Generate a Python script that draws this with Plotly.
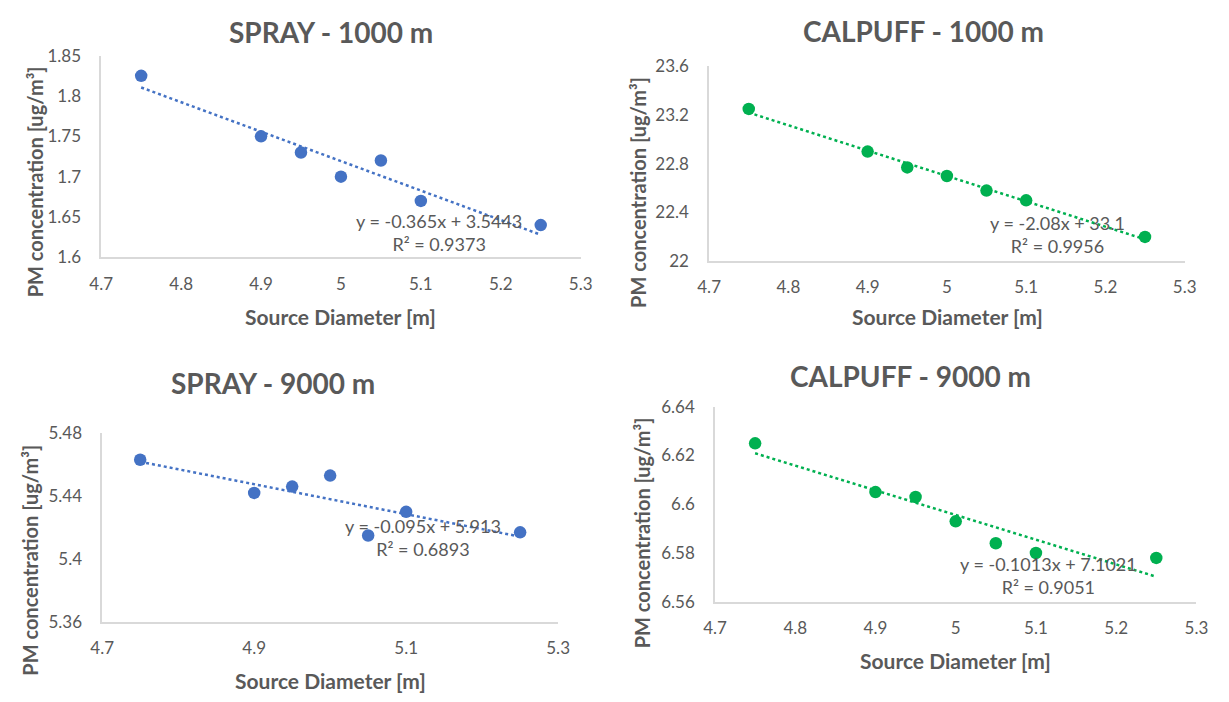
import numpy as np
import plotly.graph_objects as go

# ---- data ----
diam = [4.75, 4.9, 4.95, 5.0, 5.05, 5.1, 5.25]
spray_1000 = [1.825, 1.75, 1.73, 1.70, 1.72, 1.67, 1.64]
calpuff_1000 = [23.25, 22.90, 22.77, 22.70, 22.58, 22.50, 22.20]
spray_9000 = [5.463, 5.442, 5.446, 5.453, 5.415, 5.430, 5.417]
calpuff_9000 = [6.625, 6.605, 6.603, 6.593, 6.584, 6.580, 6.578]

titles = ["SPRAY - 1000 m", "CALPUFF - 1000 m", "SPRAY - 9000 m", "CALPUFF - 9000 m"]
slopes = [-0.365, -2.08, -0.095, -0.1013]
intercepts = [3.5443, 33.1, 5.913, 7.1021]
eq_labels = ["y = -0.365x + 3.5443", "y = -2.08x + 33.1", "y = -0.095x + 5.913", "y = -0.1013x + 7.1021"]
r2_labels = ["R² = 0.9373", "R² = 0.9956", "R² = 0.6893", "R² = 0.9051"]

x_ticks_a = [4.7, 4.8, 4.9, 5.0, 5.1, 5.2, 5.3]
x_ticklabels_a = ["4.7", "4.8", "4.9", "5", "5.1", "5.2", "5.3"]
x_ticks_b = [4.7, 4.9, 5.1, 5.3]
x_ticklabels_b = ["4.7", "4.9", "5.1", "5.3"]

y_ticks = [[1.6, 1.65, 1.7, 1.75, 1.8, 1.85],
           [22.0, 22.4, 22.8, 23.2, 23.6],
           [5.36, 5.40, 5.44, 5.48],
           [6.56, 6.58, 6.60, 6.62, 6.64]]
y_ticklabels = [["1.6", "1.65", "1.7", "1.75", "1.8", "1.85"],
                ["22", "22.4", "22.8", "23.2", "23.6"],
                ["5.36", "5.4", "5.44", "5.48"],
                ["6.56", "6.58", "6.6", "6.62", "6.64"]]

series = [spray_1000, calpuff_1000, spray_9000, calpuff_9000]
colors = ["#4472C4", "#00B050", "#4472C4", "#00B050"]

W, H = 1229, 702
# pixel layout of each plot area: left, right, top, bottom
boxes = [(91, 580, 46, 254), (711, 1196, 57, 258), (92, 557, 435, 630), (717, 1208, 408, 609)]
title_pos = [(325, 22), (930, 21), (266, 383), (916, 376)]
xtitle_pos = [(335, 315), (954, 315), (325, 690), (962, 670)]
ytitle_pos = [(23, 176), (639, 187), (18, 566), (642, 538)]
eq_pos = [(435, 228), (1066, 230), (419, 543), (1057, 582)]

TXT = "#595959"
FONT = "Lato"

fig = go.Figure()
annotations = []
for i in range(4):
    ax = "" if i == 0 else str(i + 1)
    xa, ya = "x" + ax, "y" + ax
    xd = np.array([diam[0], diam[-1]])
    fig.add_trace(go.Scatter(x=list(xd), y=list(slopes[i] * xd + intercepts[i]), mode="lines",
                             line=dict(color=colors[i], width=2.5, dash="dot"),
                             xaxis=xa, yaxis=ya, showlegend=False, hoverinfo="skip"))
    fig.add_trace(go.Scatter(x=diam, y=series[i], mode="markers",
                             marker=dict(color=colors[i], size=12.5),
                             xaxis=xa, yaxis=ya, showlegend=False))
    l, r, t, b = boxes[i]
    xt, xl = (x_ticks_b, x_ticklabels_b) if i == 2 else (x_ticks_a, x_ticklabels_a)
    xkw = dict(domain=[l / W, r / W], range=[4.7, 5.3], tickvals=xt, ticktext=xl,
               showline=True, linecolor="#D9D9D9", linewidth=1.5, showgrid=False, zeroline=False,
               ticks="outside", ticklen=10, tickcolor="rgba(0,0,0,0)",
               tickfont=dict(family=FONT, size=17, color=TXT), anchor=ya)
    ykw = dict(domain=[1 - b / H, 1 - t / H], range=[y_ticks[i][0], y_ticks[i][-1]],
               tickvals=y_ticks[i], ticktext=y_ticklabels[i],
               showline=True, linecolor="#D9D9D9", linewidth=1.5, showgrid=False, zeroline=False,
               ticks="outside", ticklen=15, tickcolor="rgba(0,0,0,0)",
               tickfont=dict(family=FONT, size=17, color=TXT), anchor=xa)
    fig.update_layout(**{"xaxis" + ax: xkw, "yaxis" + ax: ykw})

    tx, ty = title_pos[i]
    annotations.append(dict(text="<b>" + titles[i] + "</b>", x=tx / W, y=1 - ty / H, xref="paper", yref="paper",
                            showarrow=False, font=dict(family=FONT, size=28, color=TXT),
                            xanchor="center", yanchor="middle"))
    tx, ty = xtitle_pos[i]
    annotations.append(dict(text="<b>Source Diameter [m]</b>", x=tx / W, y=1 - ty / H, xref="paper", yref="paper",
                            showarrow=False, font=dict(family=FONT, size=21, color=TXT),
                            xanchor="center", yanchor="middle"))
    tx, ty = ytitle_pos[i]
    annotations.append(dict(text="<b>PM concentration [ug/m³]</b>", x=tx / W, y=1 - ty / H, xref="paper", yref="paper",
                            showarrow=False, font=dict(family=FONT, size=20, color=TXT), textangle=-90,
                            xanchor="center", yanchor="middle"))
    tx, ty = eq_pos[i]
    annotations.append(dict(text=eq_labels[i] + "<br>" + r2_labels[i], x=tx / W, y=1 - ty / H, xref="paper", yref="paper",
                            showarrow=False, font=dict(family=FONT, size=18, color=TXT), align="center",
                            xanchor="center", yanchor="middle"))

fig.update_layout(width=W, height=H, margin=dict(l=0, r=0, t=0, b=0),
                  paper_bgcolor="white", plot_bgcolor="white", annotations=annotations)
fig.write_html("out.html")
